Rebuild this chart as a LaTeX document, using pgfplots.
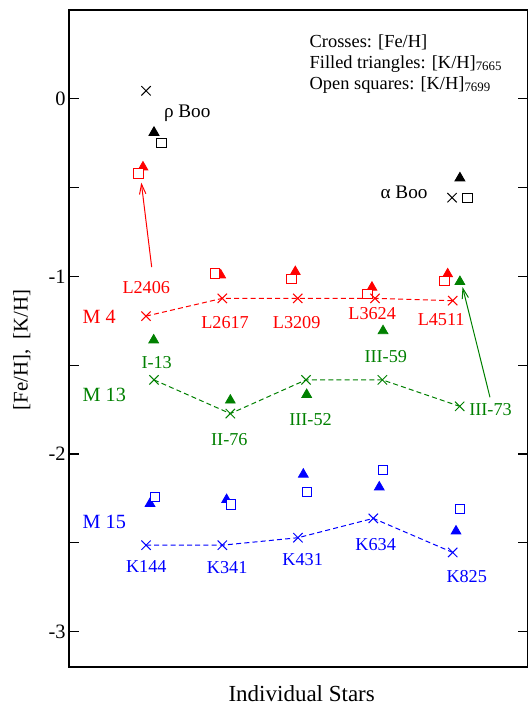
\documentclass[border=0pt]{standalone}
\usepackage{fontspec}
\setmainfont{Liberation Serif}
\usepackage{pgfplots}
\pgfplotsset{compat=1.18}
\usetikzlibrary{arrows.meta}
\definecolor{mred}{rgb}{1,0,0}
\definecolor{mgreen}{rgb}{0,0.5,0}
\definecolor{mblue}{rgb}{0,0,1}
\begin{document}
\begin{tikzpicture}
\begin{axis}[
  at={(0,0)}, anchor=south west,
  scale only axis, width=229.5pt, height=328.5pt,
  xmin=0, xmax=6, ymin=-3.2, ymax=0.5,
  xtick=\empty,
  ytick={-3,-2.5,...,0}, yticklabels={-3,,-2,,-1,,0},
  tick align=inside, major tick length=5pt,
  axis line style={line width=0.6pt},
  every tick/.style={line width=0.6pt, black},
  yticklabel style={font=\fontsize{10.2}{12}\selectfont, xshift=1.8pt},
  xlabel={Individual Stars},
  xlabel style={font=\fontsize{11.5}{13}\selectfont, at={(axis description cs:0.507,0)}, anchor=base, yshift=-17.3pt},
  ylabel={[Fe/H],\ \ [K/H]},
  ylabel style={font=\fontsize{10.4}{12}\selectfont, at={(axis description cs:-0.1024,0.4825)}, anchor=center},
  clip=false,
  mark options={solid, line width=0.5pt},
]
% ---- triangles [K/H]7665 ----
\addplot[only marks, mark=triangle*, mark size=2.8pt, black] coordinates {(1.111,-0.19) (5.11,-0.447)};
\addplot[only marks, mark=triangle*, mark size=2.8pt, mred, mark options={fill=mred}] coordinates {(0.967,-0.385) (1.983,-0.993) (2.958,-0.974) (3.96,-1.062) (4.95,-0.987)};
\addplot[only marks, mark=triangle*, mark size=2.8pt, mgreen, mark options={fill=mgreen}] coordinates {(1.107,-1.359) (2.109,-1.698) (3.107,-1.666) (4.105,-1.307) (5.11,-1.03)};
\addplot[only marks, mark=triangle*, mark size=2.8pt, mblue, mark options={fill=mblue}] coordinates {(1.059,-2.28) (2.06,-2.258) (3.063,-2.115) (4.056,-2.187) (5.059,-2.435)};
% ---- squares [K/H]7699 ----
\addplot[only marks, mark=square*, mark size=2.3pt, black, mark options={fill=white}] coordinates {(1.207,-0.25) (5.207,-0.557)};
\addplot[only marks, mark=square*, mark size=2.3pt, mred, mark options={fill=white}] coordinates {(0.906,-0.42) (1.908,-0.983) (2.906,-1.013) (3.90,-1.10) (4.906,-1.025)};
\addplot[only marks, mark=square*, mark size=2.3pt, mblue, mark options={fill=white}] coordinates {(1.12,-2.243) (2.114,-2.284) (3.107,-2.213) (4.108,-2.092) (5.111,-2.311)};
% ---- crosses [Fe/H] ----
\addplot[only marks, mark=x, mark size=3.3pt, black] coordinates {(1.007,0.045) (5.007,-0.557)};
\addplot[mred, line width=0.5pt, dash pattern=on 2.5pt off 1.6pt, mark=x, mark size=3.3pt] coordinates {(1.007,-1.224) (2.004,-1.124) (2.99,-1.124) (4.0,-1.124) (5.016,-1.137)};
\addplot[mgreen, line width=0.5pt, dash pattern=on 2.5pt off 1.6pt, mark=x, mark size=3.3pt] coordinates {(1.111,-1.583) (2.109,-1.773) (3.098,-1.583) (4.096,-1.583) (5.107,-1.732)};
\addplot[mblue, line width=0.5pt, dash pattern=on 2.5pt off 1.6pt, mark=x, mark size=3.3pt] coordinates {(1.007,-2.514) (2.004,-2.514) (2.993,-2.472) (3.978,-2.363) (5.016,-2.555)};
% ---- arrows ----
\addplot[mred, line width=0.5pt, -{Straight Barb[length=5pt,width=3.2pt]}] coordinates {(1.081,-0.948) (0.945,-0.472)};
\addplot[mgreen, line width=0.5pt, -{Straight Barb[length=5pt,width=3.2pt]}] coordinates {(5.503,-1.681) (5.144,-1.06)};
% ---- labels ----
\begin{scope}[every node/.style={font=\fontsize{9.1}{11}\selectfont, inner sep=0pt}]
\node[black, font=\fontsize{9.6}{11}\selectfont] at (axis cs:1.546,-0.081) {ρ Boo};
\node[black, font=\fontsize{9.6}{11}\selectfont] at (axis cs:4.38,-0.528) {α Boo};
\node[mred] at (axis cs:1.01,-1.062) {L2406};
\node[mred, font=\fontsize{10.1}{12}\selectfont] at (axis cs:0.396,-1.228) {M 4};
\node[mred] at (axis cs:2.04,-1.262) {L2617};
\node[mred] at (axis cs:2.976,-1.262) {L3209};
\node[mred] at (axis cs:3.963,-1.209) {L3624};
\node[mred] at (axis cs:4.865,-1.243) {L4511};
\node[mgreen] at (axis cs:1.146,-1.487) {I-13};
\node[mgreen] at (axis cs:4.141,-1.45) {III-59};
\node[mgreen, font=\fontsize{10.1}{12}\selectfont] at (axis cs:0.462,-1.666) {M 13};
\node[mgreen] at (axis cs:2.096,-1.919) {II-76};
\node[mgreen] at (axis cs:3.157,-1.805) {III-52};
\node[mgreen] at (axis cs:5.51,-1.75) {III-73};
\node[mblue, font=\fontsize{10.1}{12}\selectfont] at (axis cs:0.462,-2.384) {M 15};
\node[mblue] at (axis cs:1.01,-2.634) {K144};
\node[mblue] at (axis cs:2.068,-2.638) {K341};
\node[mblue] at (axis cs:3.055,-2.594) {K431};
\node[mblue] at (axis cs:4.009,-2.51) {K634};
\node[mblue] at (axis cs:5.199,-2.69) {K825};
\end{scope}
\node[anchor=north west, inner sep=0pt, align=left, font=\fontsize{9.2}{10.4}\selectfont] at (axis cs:3.141,0.361)
 {Crosses: [Fe/H]\\Filled triangles: [K/H]\textsubscript{7665}\\Open squares: [K/H]\textsubscript{7699}};
\end{axis}
\pgfresetboundingbox
\path[use as bounding box] (-34.5pt,-19pt) rectangle (229.1pt,333.5pt);
\end{tikzpicture}
\end{document}
